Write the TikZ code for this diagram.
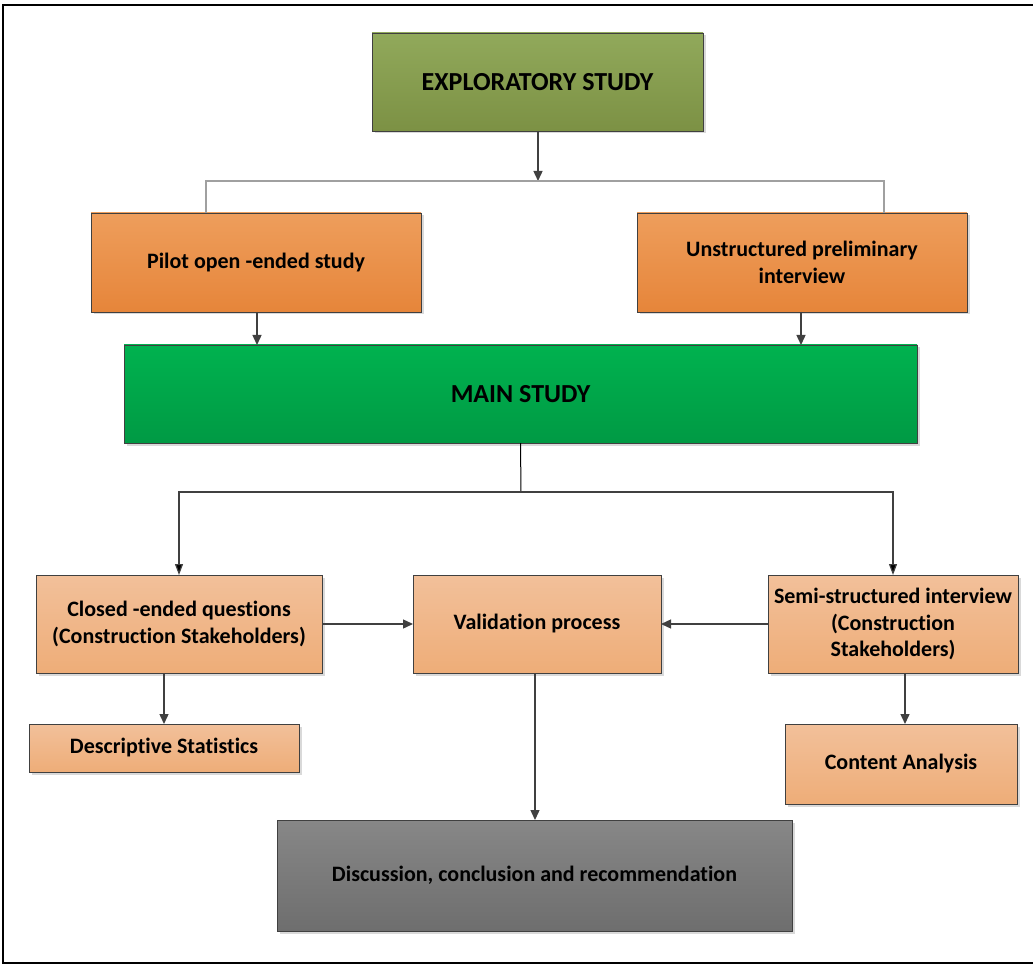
\documentclass[tikz,border=0pt]{standalone}
\usepackage{fontspec}
\setmainfont[Ligatures={NoCommon}]{Carlito}
\usetikzlibrary{arrows.meta,shadows,calc}
\definecolor{olivetop}{HTML}{91A95B}
\definecolor{olivebot}{HTML}{7C9144}
\definecolor{orgtop}{HTML}{EE9E5C}
\definecolor{orgbot}{HTML}{E6853A}
\definecolor{grntop}{HTML}{00B24F}
\definecolor{grnbot}{HTML}{009A44}
\definecolor{lotop}{HTML}{F2C09A}
\definecolor{lobot}{HTML}{EEAD78}
\definecolor{gytop}{HTML}{878787}
\definecolor{gybot}{HTML}{6E6E6E}
\definecolor{edge}{HTML}{404040}
\definecolor{lgline}{HTML}{A0A0A0}
\tikzset{
  boxstyle/.style={draw=edge, line width=0.9pt, inner sep=1pt, outer sep=0pt, align=center,
    font=\bfseries\fontsize{22}{26.5}\selectfont, text=black,
    drop shadow={shadow xshift=2.5pt, shadow yshift=-2.5pt, opacity=0.25, fill=black!60}},
  bigtext/.style={font=\bfseries\fontsize{26}{30}\selectfont},
  olivebox/.style={boxstyle, top color=olivetop, bottom color=olivebot},
  orgbox/.style={boxstyle, top color=orgtop, bottom color=orgbot},
  grnbox/.style={boxstyle, top color=grntop, bottom color=grnbot},
  lobox/.style={boxstyle, top color=lotop, bottom color=lobot},
  gybox/.style={boxstyle, top color=gytop, bottom color=gybot},
  arr/.style={draw=edge, line width=1.4pt, -{Triangle[length=10pt,width=9pt]}},
  thinline/.style={draw=lgline, line width=1.2pt},
  blkline/.style={draw=black, line width=1pt},
  blkarr/.style={draw=edge, line width=1.2pt, -{Triangle[length=11pt,width=8pt,fill=black]}},
}
\begin{document}
\begin{tikzpicture}[x=1pt,y=1pt]
\useasboundingbox (0,0) rectangle (1033,-965);
% outer frame
\draw[black, line width=1.2pt] (1033,-5) -- (3,-5) -- (3,-963) -- (1033,-963);

\node[olivebox, bigtext, minimum width=331pt, minimum height=98pt] (expl) at (537.5,-82) {EXPLORATORY STUDY};
\node[orgbox, minimum width=330pt, minimum height=99pt] (pilot) at (256,-262.5) {Pilot open -ended study};
\node[orgbox, minimum width=330pt, minimum height=99pt] (unstr) at (802,-262.5) {Unstructured preliminary\\interview};
\node[grnbox, bigtext, minimum width=793pt, minimum height=98pt] (main) at (520.5,-394) {MAIN STUDY};
\node[lobox, minimum width=286pt, minimum height=98pt] (closed) at (179,-624) {Closed -ended questions\\(Construction Stakeholders)};
\node[lobox, minimum width=248pt, minimum height=98pt] (valid) at (537,-624) {Validation process};
\node[lobox, minimum width=250pt, minimum height=98pt] (semi) at (893,-624) {Semi-structured interview\\(Construction\\Stakeholders)};
\node[lobox, minimum width=270pt, minimum height=48pt] (desc) at (164,-748) {Descriptive Statistics};
\node[lobox, minimum width=232pt, minimum height=80pt] (content) at (901,-764) {Content Analysis};
\node[gybox, minimum width=515pt, minimum height=111pt] (disc) at (534.5,-875.5) {Discussion, conclusion and recommendation};

% exploratory split
\coordinate (sp1) at (538,-181);
\draw[arr] ([xshift=0.5pt]expl.south) -- (sp1);
\draw[thinline] ([xshift=-50pt]pilot.north) |- (sp1) -| ([xshift=82pt]unstr.north);
\draw[arr] ([xshift=1pt]pilot.south) -- ([xshift=1pt]pilot.south |- main.north);
\draw[arr] ([xshift=-1pt]unstr.south) -- ([xshift=-1pt]unstr.south |- main.north);

% main split
\coordinate (sp2) at (521,-492);
\draw[blkline] (main.south) -- (sp2);
\draw[blkarr] (sp2) -| (closed.north);
\draw[blkarr] (sp2) -| (semi.north);

% middle row
\draw[arr] (closed.east) -- (valid.west);
\draw[arr] (semi.west) -- (valid.east);
\draw[arr] (desc.north |- closed.south) -- (desc.north);
\draw[arr] ([xshift=4pt]content.north |- semi.south) -- ([xshift=4pt]content.north);
\draw[arr] ([xshift=0.5pt]disc.north |- valid.south) -- ([xshift=0.5pt]disc.north);
\end{tikzpicture}
\end{document}
